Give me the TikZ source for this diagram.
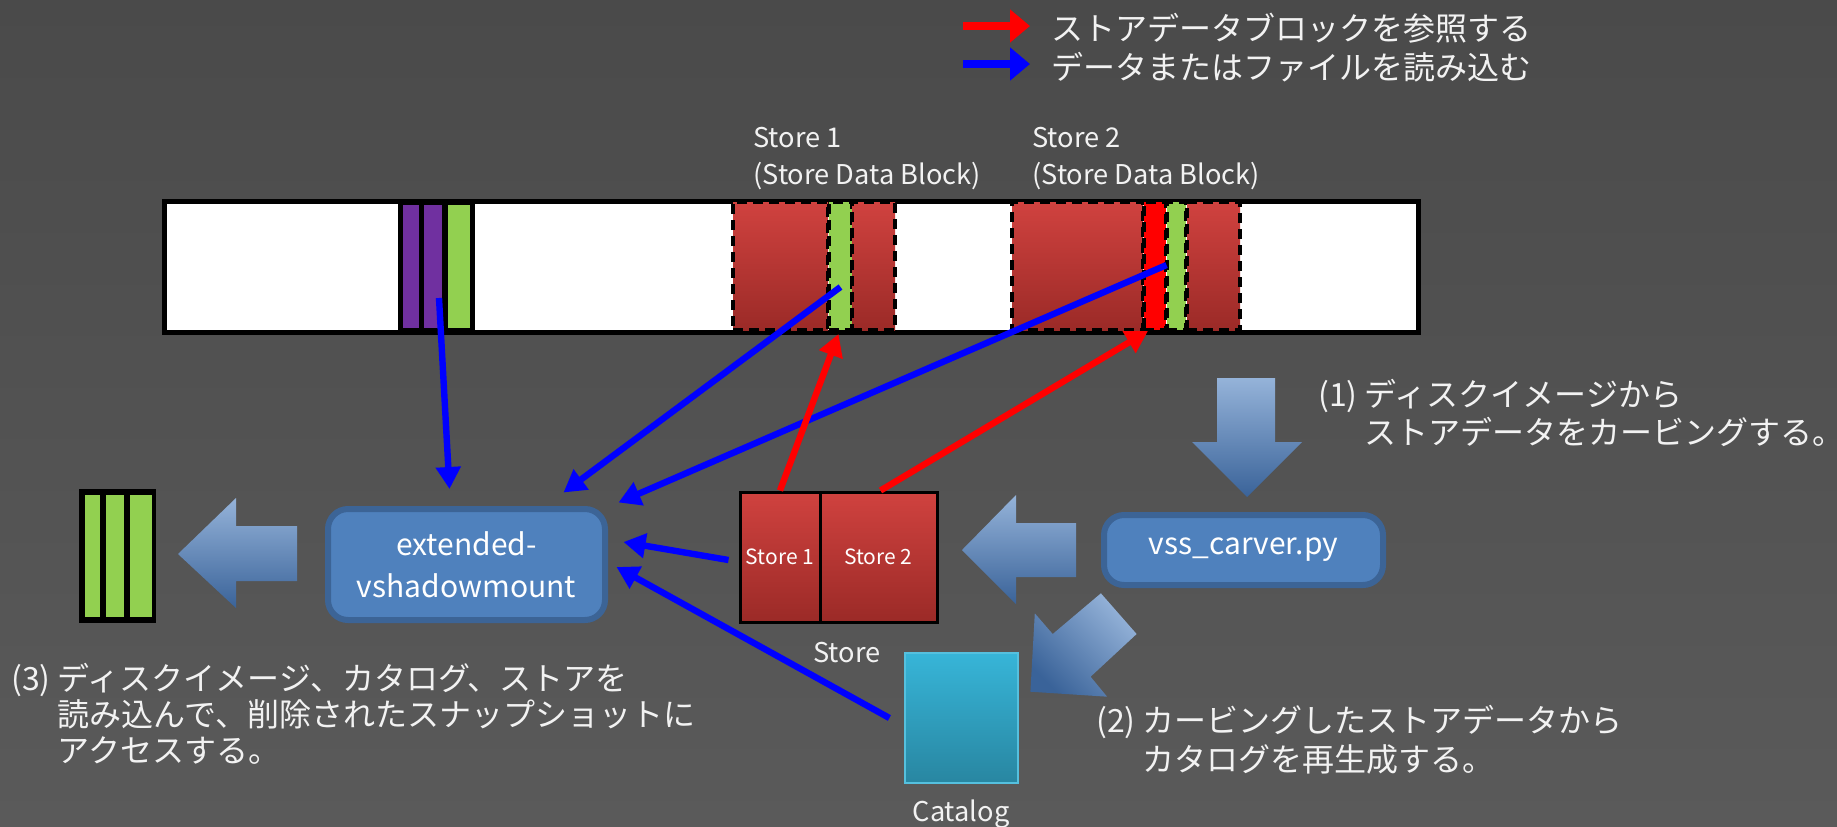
\documentclass[tikz,border=0pt]{standalone}
\usepackage{fontspec}
\setmainfont{Noto Sans CJK JP}
\usetikzlibrary{arrows.meta}
\definecolor{bgtop}{HTML}{4A4A4A}
\definecolor{bgmid}{HTML}{707070}
\definecolor{bgbot}{HTML}{5A5A5A}
\definecolor{redtop}{HTML}{D0423F}
\definecolor{redbot}{HTML}{9B2A27}
\definecolor{grn}{HTML}{92D050}
\definecolor{purp}{HTML}{7030A0}
\definecolor{boxfill}{HTML}{4F81BD}
\definecolor{boxedge}{HTML}{3C6496}
\definecolor{arrlight}{HTML}{95B3D9}
\definecolor{arrdark}{HTML}{3A6399}
\definecolor{cattop}{HTML}{37B5D8}
\definecolor{catbot}{HTML}{2886A1}
\definecolor{txt}{HTML}{F2F2F2}
\definecolor{rdline}{HTML}{FF0000}
\definecolor{blline}{HTML}{0000FF}
\begin{document}
\begin{tikzpicture}[x=0.5pt,y=-0.5pt,
  seg/.style={draw=black,line width=1.6pt,dash pattern=on 5pt off 3pt,inner sep=0pt,minimum height=64pt,outer sep=0pt},
  redseg/.style={seg,top color=redtop,bottom color=redbot},
  grnseg/.style={seg,fill=grn},
  brtseg/.style={seg,fill=rdline},
  strip/.style={inner sep=0pt,outer sep=0pt,draw=none,fill=#1},
  blackbox/.style={inner sep=0pt,outer sep=0pt,fill=black},
  procbox/.style={draw=boxedge,line width=3pt,fill=boxfill,rounded corners=10pt,inner sep=0pt,text=white,align=center},
  storebox/.style={draw=black,line width=1.5pt,top color=redtop,bottom color=redbot,inner sep=0pt,minimum height=65pt,text=white,font=\fontsize{10.5}{12}\selectfont},
  jtext/.style={text=txt,align=left,inner sep=0pt,anchor=north west},
  ltext/.style={text=txt,font=\fontsize{13.6}{18.5}\selectfont},
  bigarrow/.style={top color=arrlight,bottom color=arrdark,draw=none},
  blarrow/.style={draw=blline,line width=3.2pt,-{Triangle[length=11pt,width=12pt]}},
  rdarrow/.style={draw=rdline,line width=3.2pt,-{Triangle[length=11pt,width=12pt]}},
  legarrow/.style={line width=4pt,-{Triangle[length=10pt,width=16pt]}}
]
% background
\shade[top color=bgtop,middle color=bgmid,bottom color=bgbot] (0,0) rectangle (1837,826);
\useasboundingbox (0,0) rectangle (1837,826);

% legend
\coordinate (lr1) at (963,26);
\coordinate (lr2) at (1030,26);
\coordinate (lb1) at (963,64);
\coordinate (lb2) at (1030,64);
\draw[legarrow,draw=rdline,fill=rdline] (lr1) -- (lr2);
\draw[legarrow,draw=blline,fill=blline] (lb1) -- (lb2);
\node[jtext,font=\fontsize{16}{19.5}\selectfont] (legtext) at (1051,13)
  {ストアデータブロックを参照する\\データまたはファイルを読み込む};

% disk image bar
\node[draw=black,line width=2.5pt,fill=white,inner sep=0pt,minimum width=627pt,minimum height=65.5pt] (disk) at (791,266.5) {};

% catalog block in disk
\node[blackbox,minimum width=38.5pt,minimum height=66.5pt] (dcat) at (436.5,267.5) {};
\node[strip=purp,minimum width=8pt,minimum height=61.5pt] (p1) at (411,266.5) {};
\node[strip=purp,minimum width=9pt,minimum height=61.5pt] (p2) at (433,266.5) {};
\node[strip=grn,minimum width=11pt,minimum height=61.5pt] (pg) at (459,266.5) {};

% store 1 data block
\node[redseg,minimum width=47.5pt] (s1a) at (780.5,266) {};
\node[grnseg,minimum width=11.5pt] (s1g) at (840.5,266) {};
\node[redseg,minimum width=21.5pt] (s1b) at (873.5,266) {};
% store 2 data block
\node[redseg,minimum width=65.5pt] (s2a) at (1077.5,266) {};
\node[brtseg,minimum width=11pt] (s2r) at (1155,266) {};
\node[grnseg,minimum width=9.5pt] (s2g) at (1176.5,266) {};
\node[redseg,minimum width=26.5pt] (s2b) at (1213.5,266) {};

\node[ltext,align=left,anchor=north west,inner sep=0pt] (lab1) at (753,127)
  {Store 1\\(Store Data Block)};
\node[ltext,align=left,anchor=north west,inner sep=0pt] (lab2) at (1032,127)
  {Store 2\\(Store Data Block)};

% result stack (left)
\node[blackbox,minimum width=38.5pt,minimum height=67pt] (res) at (117.5,556) {};
\node[strip=grn,minimum width=7.5pt,minimum height=61pt] (g1) at (92.5,556) {};
\node[strip=grn,minimum width=9pt,minimum height=61pt] (g2) at (115,556) {};
\node[strip=grn,minimum width=11pt,minimum height=61pt] (g3) at (141,556) {};

% processing boxes
\node[procbox,minimum width=138.5pt,minimum height=55.5pt,font=\fontsize{15}{21}\selectfont] (ext) at (466.5,564.5)
  {extended-\\vshadowmount};
\node[procbox,minimum width=139.5pt,minimum height=35pt,font=\fontsize{15}{18}\selectfont] (vss) at (1243.5,550)
  {vss\_carver.py};

% store boxes
\node[storebox,minimum width=40pt] (st1) at (780,557) {Store 1};
\node[storebox,minimum width=58.5pt] (st2) at (878.5,557) {Store 2};
\node[ltext] (stlab) at (847,653) {Store};

% catalog
\node[draw=cattop!85!white,line width=0.6pt,top color=cattop,bottom color=catbot,inner sep=0pt,minimum width=56.5pt,minimum height=65pt] (cat) at (961.5,718) {};
\node[ltext] (catlab) at (961,814) {Catalog};

% big block arrows
\shade[bigarrow] (178,554) -- (236,498) -- (236,526) -- (297,526) -- (297,581) -- (236,581) -- (236,608) -- cycle;
\shade[bigarrow] (962,550) -- (1016,495) -- (1016,523) -- (1076,523) -- (1076,577) -- (1016,577) -- (1016,604) -- cycle;
\shade[bigarrow] (1217,378) -- (1275,378) -- (1275,442) -- (1302,442) -- (1247,497) -- (1192,442) -- (1217,442) -- cycle;
\shade[bigarrow,shading angle=-45] (1030.4,691.7) -- (1034.8,613.3) -- (1052.7,634) -- (1100.9,593.3) -- (1136.6,634) -- (1090.6,676.7) -- (1107.1,696.7) -- cycle;

% step texts
\node[jtext,font=\fontsize{16}{19}\selectfont] (t1) at (1318,379)
  {(1) ディスクイメージから\\\phantom{(1)~}ストアデータをカービングする。};
\node[jtext,font=\fontsize{16}{19.5}\selectfont] (t2) at (1096,705)
  {(2) カービングしたストアデータから\\\phantom{(2)~}カタログを再生成する。};
\node[jtext,font=\fontsize{16}{18}\selectfont] (t3) at (11,663)
  {(3) ディスクイメージ、カタログ、ストアを\\\phantom{(3)~}読み込んで、削除されたスナップショットに\\\phantom{(3)~}アクセスする。};

% connectors: read (blue)
\draw[blarrow] ([shift={(6,31.5)}]p2.center) -- ([shift={(-17,-17)}]ext.north);
\draw[blarrow] ([shift={(0,21)}]s1g.center) -- ([shift={(-44.5,-13.5)}]ext.north east);
\draw[blarrow] ([shift={(-10,-1)}]s2g.center) -- ([shift={(10.5,-3.5)}]ext.north east);
\draw[blarrow] ([shift={(-10,3)}]st1.west) -- ([shift={(15.5,-22.5)}]ext.east);
\draw[blarrow] ([shift={(-15,0)}]cat.west) -- ([shift={(8.5,2.5)}]ext.east);
% connectors: reference (red)
\draw[rdarrow] (st1.north) -- ([shift={(-2,4)}]s1g.south);
\draw[rdarrow] ([shift={(2,0)}]st2.north) -- ([shift={(-7,1)}]s2r.south);
\end{tikzpicture}
\end{document}
